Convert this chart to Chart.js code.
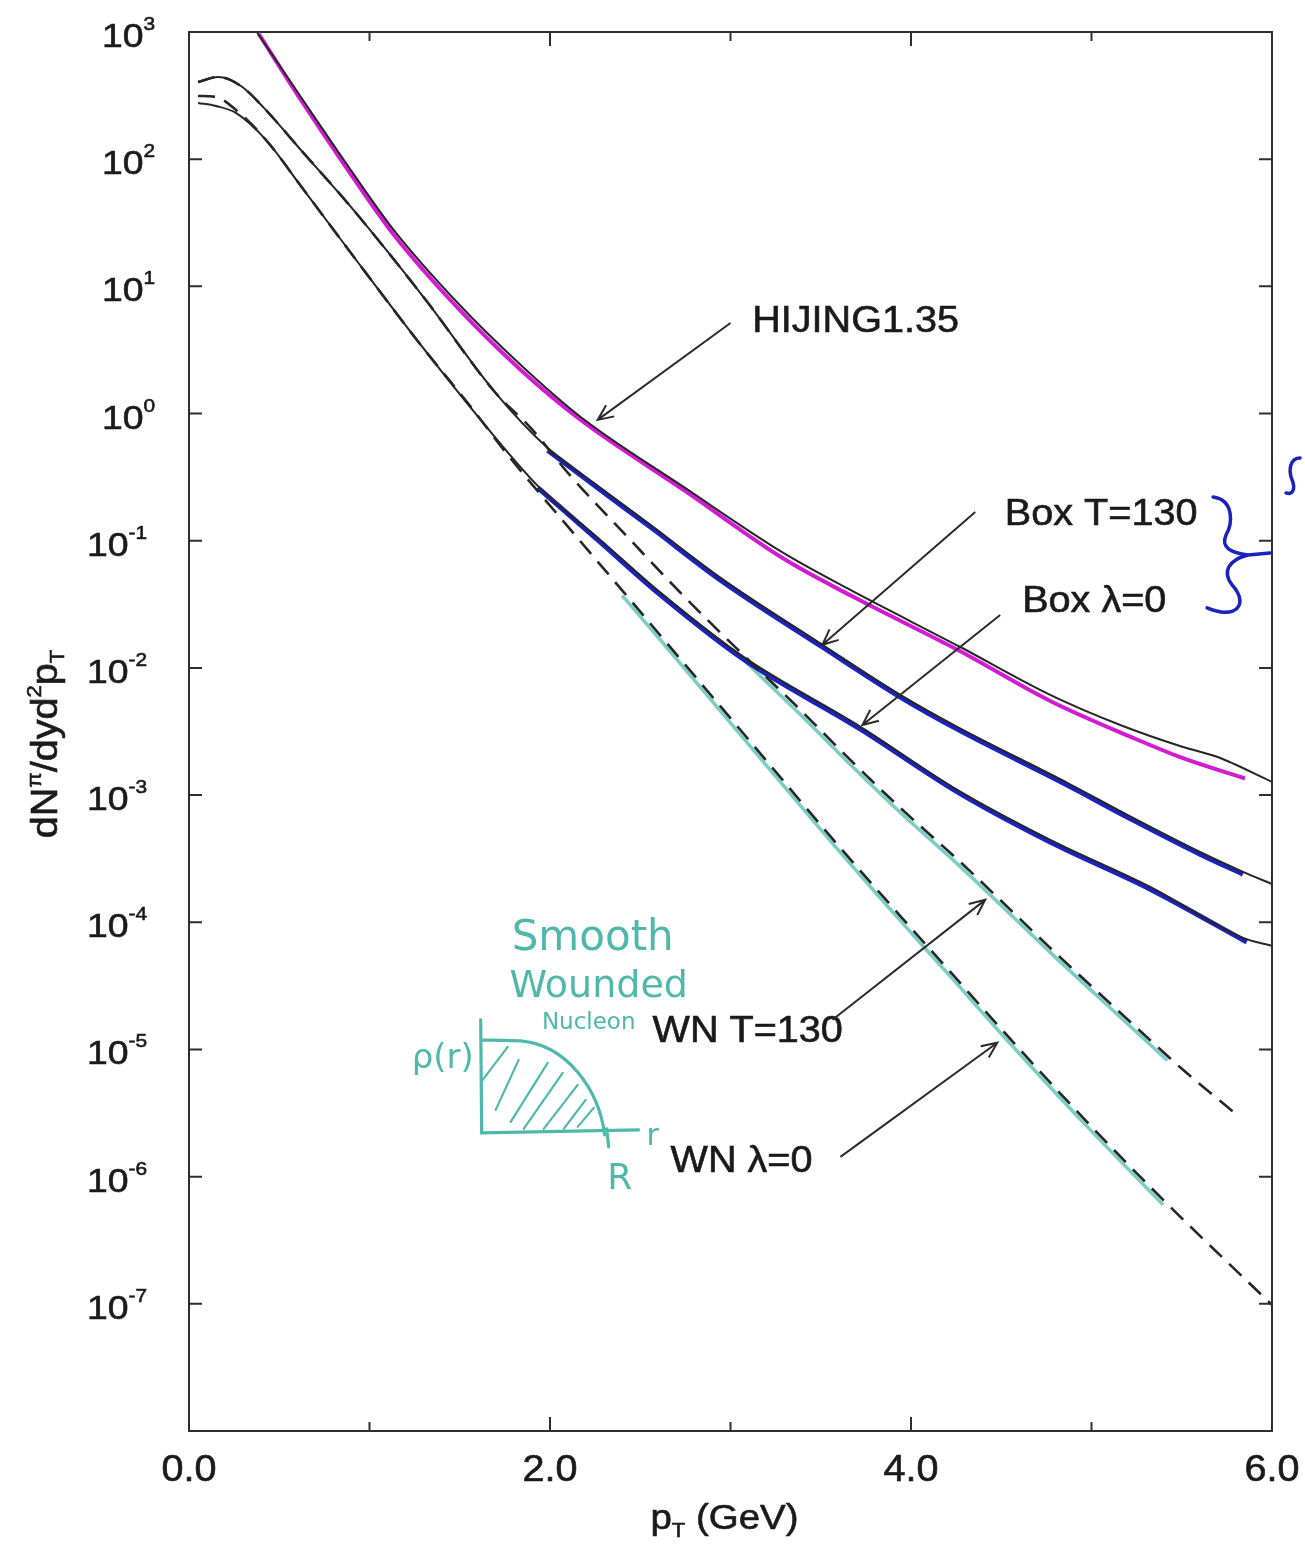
<!DOCTYPE html>
<html>
<head>
<meta charset="utf-8">
<script src="https://cdn.jsdelivr.net/npm/chart.js@4.4.1/dist/chart.umd.min.js"></script>
<style>
  html, body { margin: 0; padding: 0; background: #ffffff; }
  canvas { display: block; }
</style>
</head>
<body>
<canvas id="chart" width="1305" height="1544"></canvas>
<script>
// pion pT spectra (pT in GeV, dN/dyd2pT)

// HIJING1.35, printed black curve
const hijingPt = [0.376, 0.62, 0.858, 1.135, 1.489, 1.838, 2.17, 2.74, 3.293, 3.664, 4.273, 4.771, 5.159, 5.507, 5.695, 6.0];
const hijingY = [1000, 308, 98.6, 27.7, 7.40, 2.41, 0.940, 0.265, 0.0802, 0.0410, 0.0146, 0.00614, 0.00356, 0.00239, 0.00200, 0.00127];
// magenta marker traced along it by hand
const hijingInkPt = [0.387, 0.62, 0.858, 1.135, 1.489, 1.838, 2.17, 2.74, 3.293, 3.664, 4.273, 4.771, 5.23, 5.507, 5.85];
const hijingInkY = [964, 292, 91.6, 25.4, 6.76, 2.20, 0.89, 0.251, 0.0724, 0.0372, 0.0135, 0.0055, 0.00282, 0.00195, 0.00135];

// Box T=130
const boxTPt = [0.05, 0.161, 0.288, 0.415, 0.62, 0.897, 1.312, 1.699, 1.987, 2.28, 2.557, 2.945, 3.509, 3.941, 4.256, 4.865, 5.23, 5.601, 5.839, 6.0];
const boxTY = [404, 443, 376, 253, 118, 42.1, 7.81, 1.45, 0.537, 0.260, 0.133, 0.0511, 0.0152, 0.00614, 0.00344, 0.00125, 6.62e-4, 3.57e-4, 2.49e-4, 2.00e-4];
const boxTInkPt = [1.987, 2.28, 2.557, 2.945, 3.509, 3.941, 4.256, 4.865, 5.23, 5.601, 5.839];
const boxTInkY = [0.515, 0.250, 0.128, 0.049, 0.0146, 0.0059, 0.0033, 0.0012, 6.36e-4, 3.43e-4, 2.39e-4];

// Box lambda=0
const boxLamPt = [0.05, 0.149, 0.26, 0.426, 0.62, 0.897, 1.284, 1.616, 1.932, 2.28, 2.613, 3.072, 3.72, 4.256, 4.771, 5.325, 5.839, 6.0];
const boxLamY = [277, 262, 231, 142, 61.5, 18.3, 3.46, 0.891, 0.270, 0.101, 0.0389, 0.0122, 0.00344, 0.00110, 4.45e-4, 1.90e-4, 7.53e-5, 6.52e-5];
const boxLamInkPt = [1.932, 2.28, 2.613, 3.072, 3.72, 4.256, 4.771, 5.325, 5.86];
const boxLamInkY = [0.262, 0.097, 0.0374, 0.0117, 0.0033, 0.00106, 4.27e-4, 1.82e-4, 7.0e-5];

// Wounded nucleon T=130 (dashed)
const wnTPt = [0.05, 0.161, 0.288, 0.415, 0.62, 0.897, 1.312, 1.699, 1.893, 2.114, 2.43, 2.74, 3.072, 3.387, 3.664, 3.941, 4.273, 4.494, 4.771, 5.142, 5.507, 5.812];
const wnTY = [404, 443, 376, 253, 118, 42.1, 7.81, 1.45, 0.771, 0.323, 0.107, 0.0368, 0.0126, 0.00468, 0.00189, 7.93e-4, 2.98e-4, 1.50e-4, 6.29e-5, 2.05e-5, 6.92e-6, 3.01e-6];
const wnTInkPt = [3.072, 3.387, 3.664, 3.941, 4.273, 4.494, 4.771, 5.142, 5.42];
const wnTInkY = [0.0116, 0.0043, 0.00174, 7.3e-4, 2.74e-4, 1.38e-4, 5.8e-5, 1.89e-5, 8.2e-6];

// Wounded nucleon lambda=0 (dashed)
const wnLamPt = [0.05, 0.149, 0.26, 0.426, 0.62, 0.897, 1.284, 1.561, 1.766, 2.153, 2.408, 2.613, 3.111, 3.57, 3.941, 4.218, 4.494, 4.954, 5.397, 6.0];
const wnLamY = [314, 308, 244, 142, 61.5, 18.3, 3.46, 1.13, 0.473, 0.105, 0.0395, 0.0179, 0.00262, 4.45e-4, 1.12e-4, 4.07e-5, 1.48e-5, 2.90e-6, 6.57e-7, 9.8e-8];
const wnLamInkPt = [2.40, 2.613, 3.111, 3.57, 3.941, 4.218, 4.494, 4.954, 5.397];
const wnLamInkY = [0.037, 0.0165, 0.0024, 4.1e-4, 1.03e-4, 3.75e-5, 1.36e-5, 2.67e-6, 6.0e-7];

// axes
const xTickValues = [0, 1, 2, 3, 4, 5, 6];
const xTickLabels = ['0.0', '', '2.0', '', '4.0', '', '6.0'];
const yExponents = [3, 2, 1, 0, -1, -2, -3, -4, -5, -6, -7];

// curve labels and their arrows (data units)
const curveLabels = ['HIJING1.35', 'Box T=130', 'Box λ=0', 'WN T=130', 'WN λ=0'];
const labelPt = [3.12, 4.52, 4.616, 2.568, 2.668];
const labelY = [5.25, 0.16, 0.033, 1.37e-5, 1.31e-6];
const arrowFrom = [[3.0, 5.15], [4.356, 0.168], [4.494, 0.0261], [3.565, 1.71e-5], [3.609, 1.43e-6]];
const arrowTo = [[2.264, 0.891], [3.509, 0.0152], [3.731, 0.00356], [4.411, 1.5e-4], [4.478, 1.13e-5]];

// hand notes
const sketchAnchor = [1.616, 2.21e-6];
const braceAnchor = [5.668, 0.217];

const INK = '#262626';
const MAGENTA = '#d21cd2';
const BLUE = '#1c22bc';
const TEAL = '#7ccdc4';
const TEAL_TEXT = '#4fb8ab';
const FONT = '"Liberation Sans", Arial, sans-serif';
const STRETCH = 1.1;

function pts(xs, ys) {
    return xs.map((v, i) => ({ x: v, y: ys[i] }));
}

function curve(data, color, width, order, dash) {
    return {
        data: data,
        borderColor: color,
        borderWidth: width,
        borderDash: dash || [],
        pointRadius: 0,
        fill: false,
        cubicInterpolationMode: 'monotone',
        order: order
    };
}

// draws a row of text pieces, each {t, size, dy}, starting at x (baseline y)
function rich(ctx, parts, x, y, align) {
    let total = 0;
    parts.forEach(p => {
        ctx.font = `${p.size}px ${FONT}`;
        total += ctx.measureText(p.t).width * STRETCH;
    });
    let cx = align === 'center' ? x - total / 2 : (align === 'right' ? x - total : x);
    parts.forEach(p => {
        ctx.font = `${p.size}px ${FONT}`;
        ctx.save();
        ctx.translate(cx, y + (p.dy || 0));
        ctx.scale(STRETCH, 1);
        ctx.textAlign = 'left';
        ctx.fillText(p.t, 0, 0);
        ctx.lineWidth = 0.6;
        ctx.strokeText(p.t, 0, 0);
        ctx.restore();
        cx += ctx.measureText(p.t).width * STRETCH;
    });
}

function arrow(ctx, x0, y0, x1, y1) {
    const ang = Math.atan2(y1 - y0, x1 - x0);
    const head = 17, spread = 0.42;
    ctx.beginPath();
    ctx.moveTo(x0, y0);
    ctx.lineTo(x1, y1);
    ctx.moveTo(x1 - head * Math.cos(ang - spread), y1 - head * Math.sin(ang - spread));
    ctx.lineTo(x1, y1);
    ctx.lineTo(x1 - head * Math.cos(ang + spread), y1 - head * Math.sin(ang + spread));
    ctx.stroke();
}

const framePlugin = {
    id: 'frameAndNotes',
    afterDatasetsDraw(chart) {
        const { ctx, chartArea: a, scales: { x, y } } = chart;
        const px = v => x.getPixelForValue(v);
        const py = v => y.getPixelForValue(v);

        ctx.save();
        ctx.strokeStyle = '#2e2e2e';
        ctx.fillStyle = '#1a1a1a';
        ctx.lineWidth = 2;
        ctx.strokeRect(a.left, a.top, a.right - a.left, a.bottom - a.top);

        // inward ticks
        ctx.beginPath();
        xTickValues.forEach((v, i) => {
            const len = xTickLabels[i] ? 14 : 9;
            const xx = px(v);
            ctx.moveTo(xx, a.bottom); ctx.lineTo(xx, a.bottom - len);
            ctx.moveTo(xx, a.top); ctx.lineTo(xx, a.top + len);
        });
        yExponents.forEach(e => {
            const yy = py(Math.pow(10, e));
            ctx.moveTo(a.left, yy); ctx.lineTo(a.left + 13, yy);
            ctx.moveTo(a.right, yy); ctx.lineTo(a.right - 13, yy);
        });
        ctx.stroke();

        // tick labels
        ctx.strokeStyle = '#1a1a1a';
        ctx.textBaseline = 'alphabetic';
        xTickValues.forEach((v, i) => {
            if (!xTickLabels[i]) return;
            rich(ctx, [{ t: xTickLabels[i], size: 36 }], px(v), a.bottom + 50, 'center');
        });
        yExponents.forEach(e => {
            const yy = py(Math.pow(10, e));
            const left = a.left - (e < 0 ? 102 : 87);
            rich(ctx, [{ t: '10', size: 34 }, { t: e < 0 ? '-' + (-e) : String(e), size: 19, dy: -17 }], left, yy + 15, 'left');
        });

        // axis titles
        rich(ctx, [{ t: 'p', size: 35 }, { t: 'T', size: 20, dy: 8 }, { t: ' (GeV)', size: 35 }], (a.left + a.right) / 2 - 6, a.bottom + 98, 'center');
        ctx.save();
        ctx.translate(57, 744);
        ctx.rotate(-Math.PI / 2);
        rich(ctx, [
            { t: 'dN', size: 36 }, { t: 'π', size: 20, dy: -16 }, { t: '/dyd', size: 36 },
            { t: '2', size: 20, dy: -16 }, { t: 'p', size: 36 }, { t: 'T', size: 20, dy: 7 }
        ], 0, 0, 'center');
        ctx.restore();

        // curve labels and arrows
        ctx.textBaseline = 'middle';
        curveLabels.forEach((t, i) => {
            rich(ctx, [{ t: t, size: 36 }], px(labelPt[i]), py(labelY[i]), 'left');
        });
        ctx.strokeStyle = '#2a2a2a';
        ctx.lineWidth = 2;
        arrowFrom.forEach((f, i) => {
            arrow(ctx, px(f[0]), py(f[1]), px(arrowTo[i][0]), py(arrowTo[i][1]));
        });

        // hand drawn note: smooth wounded nucleon density sketch
        const ox = px(sketchAnchor[0]), oy = py(sketchAnchor[1]);
        ctx.strokeStyle = TEAL_TEXT;
        ctx.fillStyle = TEAL_TEXT;
        ctx.lineWidth = 3.2;
        ctx.lineCap = 'round';
        ctx.beginPath();
        ctx.moveTo(ox, oy - 113); ctx.lineTo(ox + 1, oy);
        ctx.lineTo(ox + 158, oy - 3);
        ctx.moveTo(ox + 1, oy - 93); ctx.lineTo(ox + 40, oy - 92);
        ctx.bezierCurveTo(ox + 85, oy - 88, ox + 118, oy - 45, ox + 124, oy + 2);
        ctx.moveTo(ox + 126, oy - 4); ctx.lineTo(ox + 128, oy + 14);
        ctx.stroke();
        ctx.lineWidth = 2.2;
        ctx.beginPath();
        [[2, -53, 27, -86], [15, -23, 38, -73], [30, -11, 67, -70], [43, -4, 82, -60],
         [63, -4, 97, -48], [83, -4, 105, -33], [97, -6, 113, -25]].forEach(s => {
            ctx.moveTo(ox + s[0], oy + s[1]); ctx.lineTo(ox + s[2], oy + s[3]);
        });
        ctx.stroke();
        ctx.textBaseline = 'middle';
        ctx.textAlign = 'center';
        ctx.font = '42px "DejaVu Sans"';
        ctx.fillText('Smooth', ox + 112, oy - 194);
        ctx.font = '38px "DejaVu Sans"';
        ctx.fillText('Wounded', ox + 118, oy - 146);
        ctx.font = '23px "DejaVu Sans"';
        ctx.fillText('Nucleon', ox + 108, oy - 110);
        ctx.font = '34px "DejaVu Sans"';
        ctx.fillText('ρ(r)', ox - 38, oy - 74);
        ctx.font = '30px "DejaVu Sans"';
        ctx.fillText('r', ox + 172, oy + 4);
        ctx.font = '36px "DejaVu Sans"';
        ctx.fillText('R', ox + 139, oy + 47);

        // hand drawn blue brace next to the box curves
        const bx = px(braceAnchor[0]), by = py(braceAnchor[1]);
        ctx.strokeStyle = BLUE;
        ctx.lineWidth = 3.5;
        ctx.beginPath();
        ctx.moveTo(bx + 1, by - 1);
        ctx.bezierCurveTo(bx + 23, by + 2, bx + 20, by + 27, bx + 14, by + 37);
        ctx.bezierCurveTo(bx + 8, by + 50, bx + 20, by + 55, bx + 36, by + 57);
        ctx.lineTo(bx + 58, by + 55);
        ctx.moveTo(bx + 36, by + 57);
        ctx.bezierCurveTo(bx + 16, by + 62, bx + 10, by + 74, bx + 20, by + 87);
        ctx.bezierCurveTo(bx + 38, by + 107, bx + 23, by + 122, bx - 5, by + 110);
        ctx.moveTo(bx + 88, by - 40);
        ctx.bezierCurveTo(bx + 78, by - 40, bx + 76, by - 28, bx + 80, by - 18);
        ctx.bezierCurveTo(bx + 84, by - 8, bx + 80, by - 3, bx + 74, by - 5);
        ctx.stroke();

        ctx.restore();
    }
};

const datasets = [
    // hand-traced colour first so the printed black lines sit on top
    curve(pts(hijingInkPt, hijingInkY), MAGENTA, 4, 5),
    curve(pts(boxTInkPt, boxTInkY), BLUE, 5, 5),
    curve(pts(boxLamInkPt, boxLamInkY), BLUE, 5, 5),
    curve(pts(wnTInkPt, wnTInkY), TEAL, 3.5, 5),
    curve(pts(wnLamInkPt, wnLamInkY), TEAL, 3.5, 5),
    curve(pts(hijingPt, hijingY), INK, 2, 1),
    curve(pts(boxTPt, boxTY), INK, 2, 1),
    curve(pts(boxLamPt, boxLamY), INK, 2, 1),
    curve(pts(wnTPt, wnTY), INK, 2.6, 0, [17, 10]),
    curve(pts(wnLamPt, wnLamY), INK, 2.6, 0, [17, 10])
];

new Chart(document.getElementById('chart').getContext('2d'), {
    type: 'line',
    data: { datasets: datasets },
    options: {
        responsive: false,
        animation: false,
        events: [],
        layout: { padding: { left: 189, right: 33, top: 32, bottom: 113 } },
        plugins: { legend: { display: false }, tooltip: { enabled: false } },
        scales: {
            x: { type: 'linear', min: 0, max: 6, display: false },
            y: { type: 'logarithmic', min: 1e-8, max: 1e3, display: false }
        }
    },
    plugins: [framePlugin]
});
</script>
</body>
</html>
